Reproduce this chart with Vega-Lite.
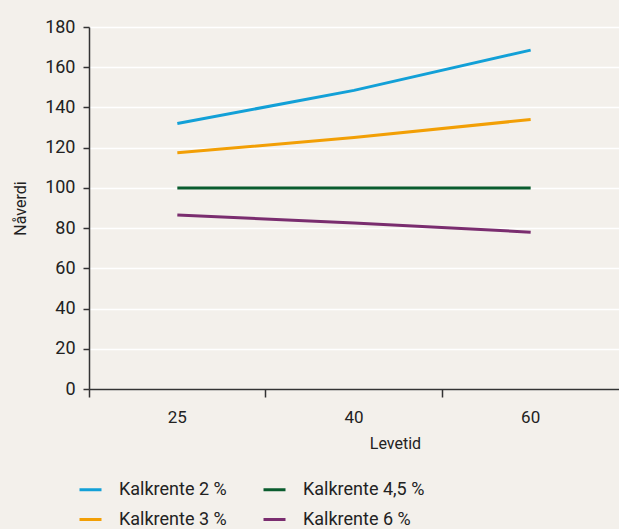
{
  "$schema": "https://vega.github.io/schema/vega-lite/v6.json",
  "width": 530,
  "height": 362,
  "autosize": {"type": "none"},
  "padding": {"left": 89, "top": 27, "right": 0, "bottom": 140},
  "background": "#f3f0eb",
  "config": {
    "view": {"stroke": null},
    "font": "Roboto",
    "axis": {"labelFont": "Roboto", "titleFont": "Roboto", "labelColor": "#222222", "titleColor": "#222222", "titleFontWeight": "normal", "domainColor": "#333333", "tickColor": "#333333"},
    "legend": {"labelFont": "Roboto", "labelColor": "#222222"}
  },
  "data": {
    "values": [
      {"Levetid": "25", "serie": "Kalkrente 2 %", "verdi": 132},
      {"Levetid": "40", "serie": "Kalkrente 2 %", "verdi": 148.5},
      {"Levetid": "60", "serie": "Kalkrente 2 %", "verdi": 168.5},
      {"Levetid": "25", "serie": "Kalkrente 3 %", "verdi": 117.5},
      {"Levetid": "40", "serie": "Kalkrente 3 %", "verdi": 125},
      {"Levetid": "60", "serie": "Kalkrente 3 %", "verdi": 134},
      {"Levetid": "25", "serie": "Kalkrente 4,5 %", "verdi": 100},
      {"Levetid": "40", "serie": "Kalkrente 4,5 %", "verdi": 100},
      {"Levetid": "60", "serie": "Kalkrente 4,5 %", "verdi": 100},
      {"Levetid": "25", "serie": "Kalkrente 6 %", "verdi": 86.5},
      {"Levetid": "40", "serie": "Kalkrente 6 %", "verdi": 82.5},
      {"Levetid": "60", "serie": "Kalkrente 6 %", "verdi": 78}
    ]
  },
  "mark": {"type": "line", "strokeWidth": 3},
  "encoding": {
    "x": {
      "field": "Levetid",
      "type": "ordinal",
      "sort": ["25", "40", "60"],
      "scale": {"type": "band", "paddingInner": 0, "paddingOuter": 0},
      "axis": {
        "title": "Levetid",
        "titleFontSize": 16,
        "titleX": 306,
        "titlePadding": 10,
        "labelAngle": 0,
        "labelFontSize": 17,
        "labelPadding": 12,
        "bandPosition": 0,
        "tickSize": 8,
        "tickWidth": 1.5,
        "domainWidth": 1.5,
        "grid": false
      }
    },
    "y": {
      "field": "verdi",
      "type": "quantitative",
      "scale": {"domain": [0, 180], "nice": false},
      "axis": {
        "title": "Nåverdi",
        "titleFontSize": 16,
        "titlePadding": 16,
        "values": [0, 20, 40, 60, 80, 100, 120, 140, 160, 180],
        "labelFontSize": 18,
        "labelPadding": 8,
        "tickSize": 6,
        "tickWidth": 1.5,
        "domainWidth": 1.5,
        "grid": true,
        "gridColor": "#ffffff",
        "gridWidth": 1.5
      }
    },
    "color": {
      "field": "serie",
      "type": "nominal",
      "scale": {
        "domain": ["Kalkrente 2 %", "Kalkrente 4,5 %", "Kalkrente 3 %", "Kalkrente 6 %"],
        "range": ["#12a0d7", "#0a5c2e", "#f29f05", "#7a2d6f"]
      },
      "legend": {
        "title": null,
        "orient": "none",
        "legendX": -11,
        "legendY": 450,
        "direction": "horizontal",
        "columns": 2,
        "symbolType": "stroke",
        "symbolStrokeWidth": 3,
        "symbolSize": 484,
        "labelFontSize": 18,
        "labelOffset": 16,
        "columnPadding": 30,
        "rowPadding": 8
      }
    }
  }
}
